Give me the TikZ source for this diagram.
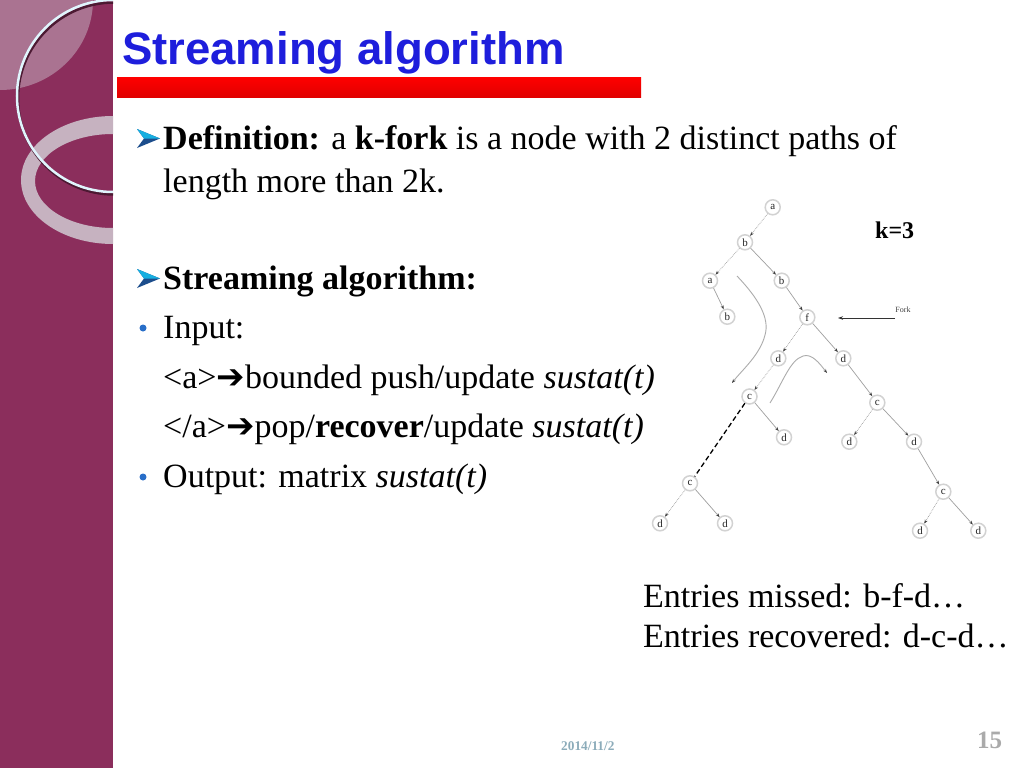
\documentclass[tikz,border=0pt]{standalone}
\usepackage{fontspec}
\setmainfont{Liberation Serif}
\newfontfamily\arialfont{Liberation Sans}
\newfontfamily\djv{DejaVu Sans}
\usetikzlibrary{arrows.meta}
\definecolor{barpurple}{RGB}{139,46,92}
\definecolor{barlight}{RGB}{170,115,145}
\definecolor{ringgrey}{RGB}{198,178,192}
\definecolor{titleblue}{RGB}{30,30,220}
\definecolor{bulletblue}{RGB}{40,110,200}
\definecolor{datecol}{RGB}{140,172,186}
\definecolor{numcol}{RGB}{170,170,170}
\tikzset{
  txt/.style={anchor=base west, inner sep=0, font=\fontsize{34}{40}\selectfont},
  arrowbullet/.pic={
    \fill[bulletblue!70!black] (0,0) -- (23,9.5) -- (0,19) -- (7,9.5) -- cycle;
    \fill[bulletblue!55!cyan] (0,0) -- (23,9.5) -- (7,9.5) -- cycle;
  },
  tn/.style={circle, draw=gray!35, line width=1.5pt, minimum size=15, inner sep=0,
    font=\fontsize{11}{11}\selectfont, text=black!85},
  te/.style={draw=gray!75, line width=0.7pt, -{Stealth[length=4pt,width=3pt,color=black!75]}},
  ted/.style={te, densely dotted},
  trav/.style={draw=gray!65, line width=0.9pt, -{Stealth[length=4pt,width=3pt,color=black!75]}},
}
\begin{document}
\begin{tikzpicture}[x=1pt,y=-1pt]
\useasboundingbox (0,0) rectangle (1024,768);
\fill[white] (0,0) rectangle (1024,768);
% left bar
\begin{scope}
  \clip (0,0) rectangle (113,768);
  \fill[barpurple] (0,0) rectangle (113,768);
  \fill[barlight] (0,0) ellipse [x radius=93, y radius=90];
  \fill[ringgrey, even odd rule] (113,180) ellipse [x radius=92, y radius=64]
                                 (113,181) ellipse [x radius=78, y radius=47];
  \draw[barpurple!55!black, line width=2.5] (114,98.5) circle [radius=96];
  \draw[white!88!cyan, line width=2.5] (113,96) circle [radius=96];
\end{scope}
% title
\node[anchor=base west, inner sep=0, font=\arialfont\bfseries\fontsize{45.5}{54}\selectfont, text=titleblue] (title) at (122,64) {Streaming algorithm};
\shade[top color=red, bottom color=red!88!black] (117,77) rectangle (641,97);
% body text
\pic at (137,129) {arrowbullet};
\node[txt] (def1) at (163,149) {\textbf{Definition:} a \textbf{k-fork} is a node with 2 distinct paths of};
\node[txt] (def2) at (163,192) {length more than 2k.};
\pic at (137,269) {arrowbullet};
\node[txt] (sa) at (163,289) {\textbf{Streaming algorithm:}};
\fill[bulletblue] (143,328) circle [radius=3.5];
\node[txt] (inp) at (163,338) {Input:};
\node[txt] (push) at (163,388) {<a>{\djv\bfseries ➔}bounded push/update \textit{sustat(t)}};
\node[txt] (pop) at (163,437) {</a>{\djv\bfseries ➔}pop/\textbf{recover}/update \textit{sustat(t)}};
\fill[bulletblue] (143,477) circle [radius=3.5];
\node[txt] (outp) at (163,487) {Output: matrix \textit{sustat(t)}};
\node[anchor=base west, inner sep=0, font=\bfseries\fontsize{24}{28}\selectfont] (k) at (875,238) {k=3};
\node[txt] (em) at (643,607) {Entries missed: b-f-d…};
\node[txt] (er) at (643,647) {Entries recovered: d-c-d…};
\node[anchor=base west, inner sep=0, font=\bfseries\fontsize{13.3}{15}\selectfont, text=datecol] (date) at (561,750) {2014/11/2};
\node[anchor=base west, inner sep=0, font=\bfseries\fontsize{25}{28}\selectfont, text=numcol] (pg) at (977,748) {15};
% tree
\node[tn] (na)  at (772.7,207.3) {a};
\node[tn] (nb)  at (745,242.3) {b};
\node[tn] (na2) at (710,280.7) {a};
\node[tn] (nb2) at (781.7,280.7) {b};
\node[tn] (nb3) at (727.3,316.7) {b};
\node[tn] (nf)  at (807.3,317.3) {f};
\node[tn] (nd1) at (778.3,358.3) {d};
\node[tn] (nd2) at (843.3,358.3) {d};
\node[tn] (nc1) at (749.5,396.5) {c};
\node[tn] (nd3) at (784,437.3) {d};
\node[tn] (nc2) at (877.3,402.7) {c};
\node[tn] (nd4) at (849.3,441.7) {d};
\node[tn] (nd5) at (914,441.7) {d};
\node[tn] (nc3) at (690,483.3) {c};
\node[tn] (nd6) at (660,523.3) {d};
\node[tn] (nd7) at (725,523.3) {d};
\node[tn] (nc4) at (943.3,491.7) {c};
\node[tn] (nd8) at (920,530.7) {d};
\node[tn] (nd9) at (978.3,530.7) {d};
\draw[ted] (na) -- (nb);
\draw[ted] (nb) -- (na2);
\draw[te]  (nb) -- (nb2);
\draw[te]  (na2) -- (nb3);
\draw[te]  (nb2) -- (nf);
\draw[ted] (nf) -- (nd1);
\draw[te]  (nf) -- (nd2);
\draw[ted] (nd1) -- (nc1);
\draw[te]  (nc1) -- (nd3);
\draw[te]  (nd2) -- (nc2);
\draw[ted] (nc2) -- (nd4);
\draw[te]  (nc2) -- (nd5);
\draw[te]  (nd5) -- (nc4);
\draw[ted] (nc4) -- (nd8);
\draw[te]  (nc4) -- (nd9);
\draw[black, line width=1.3, dash pattern=on 5pt off 3pt] (nc1) -- (nc3);
\draw[ted] (nc3) -- (nd6);
\draw[te]  (nc3) -- (nd7);
% fork label
\node[inner sep=0, font=\fontsize{8}{8}\selectfont, text=black!75] (fork) at (903,310) {Fork};
\coordinate (forkstart) at (895,318);
\coordinate (forktip) at (838,318);
\draw[black!80, line width=0.8, -{Stealth[length=5pt,width=3.5pt]}] (forkstart) -- (forktip);
% traversal curves
\coordinate (p1s) at (737,276);
\coordinate (p1m) at (765,335);
\coordinate (p1e) at (732,383);
\draw[trav] (p1s) .. controls (758,298) and (770,318) .. (p1m) .. controls (760,355) and (742,370) .. (p1e);
\coordinate (p2s) at (770,403);
\coordinate (p2m) at (803,356);
\coordinate (p2e) at (827,373);
\draw[trav] (p2s) .. controls (783,382) and (790,360) .. (p2m) .. controls (812,353) and (820,364) .. (p2e);
\end{tikzpicture}
\end{document}
